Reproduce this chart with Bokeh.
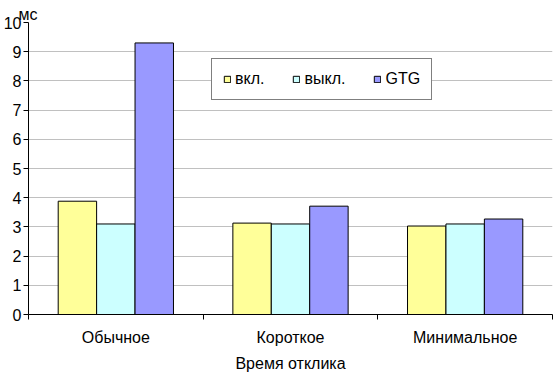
from bokeh.plotting import figure
from bokeh.models import (ColumnDataSource, Range1d, FixedTicker, Legend, LegendItem)
from bokeh.transform import dodge
from bokeh.embed import file_html
from bokeh.resources import INLINE

categories = ["Обычное", "Короткое", "Минимальное"]
series_names = ["вкл.", "выкл.", "GTG"]
on_vals = [3.88, 3.13, 3.03]
off_vals = [3.10, 3.10, 3.10]
gtg_vals = [9.30, 3.71, 3.27]
y_ticks = [0, 1, 2, 3, 4, 5, 6, 7, 8, 9, 10]
x_title = "Время отклика"
y_unit = "мс"
colors = ["#FFFF99", "#CCFFFF", "#9999FF"]

FONT = "Liberation Sans"
FS = "16px"

n = len(categories)
centers = [i + 0.5 for i in range(n)]
src = ColumnDataSource(dict(x=centers, cat=categories, on=on_vals, off=off_vals, gtg=gtg_vals))

p = figure(width=553, height=374, output_backend="svg", toolbar_location=None,
           x_range=Range1d(0, n), y_range=Range1d(0, 10),
           min_border_left=21, min_border_right=1, min_border_top=22, min_border_bottom=20)
p.outline_line_color = None
p.background_fill_color = "white"
p.border_fill_color = "white"

p.title.text = y_unit
p.title.align = "left"
p.title.offset = -10
p.title.standoff = 0
p.title.text_font = FONT
p.title.text_font_size = FS
p.title.text_font_style = "normal"
p.title.text_color = "black"

bw = 0.22
offsets = [-bw, 0.0, bw]
fields = ["on", "off", "gtg"]
renderers = []
for f, off, c in zip(fields, offsets, colors):
    r = p.vbar(x=dodge("x", off, range=p.x_range), top=f, width=bw, bottom=0, source=src,
               fill_color=c, line_color="black", line_width=1)
    renderers.append(r)

# x axis
xa = p.xaxis[0]
xa.ticker = FixedTicker(ticks=centers, minor_ticks=list(range(n + 1)))
xa.major_label_overrides = {c: lab for c, lab in zip(centers, categories)}
xa.major_tick_line_color = None
xa.major_tick_in = 0
xa.major_tick_out = 0
xa.minor_tick_line_color = "black"
xa.minor_tick_in = 0
xa.minor_tick_out = 5
xa.axis_line_color = "black"
xa.major_label_text_font = FONT
xa.major_label_text_font_size = FS
xa.major_label_text_color = "black"
xa.major_label_standoff = 9
xa.axis_label = x_title
xa.axis_label_text_font = FONT
xa.axis_label_text_font_size = FS
xa.axis_label_text_font_style = "normal"
xa.axis_label_text_color = "black"
xa.axis_label_standoff = 6

# y axis
ya = p.yaxis[0]
ya.ticker = FixedTicker(ticks=y_ticks)
ya.major_tick_in = 0
ya.major_tick_out = 5
ya.major_tick_line_color = "black"
ya.minor_tick_line_color = None
ya.axis_line_color = "black"
ya.major_label_text_font = FONT
ya.major_label_text_font_size = FS
ya.major_label_text_color = "black"
ya.major_label_standoff = 2

p.xgrid.grid_line_color = None
p.ygrid.grid_line_color = "#C0C0C0"
p.ygrid.grid_line_width = 1

legend = Legend(items=[LegendItem(label=s, renderers=[r]) for s, r in zip(series_names, renderers)],
                orientation="horizontal", location=(183, 214),
                border_line_color="black", border_line_width=1,
                background_fill_color="white", background_fill_alpha=1,
                padding=11, spacing=28, margin=0,
                glyph_width=8, glyph_height=8, label_standoff=4, label_height=15,
                label_text_font=FONT, label_text_font_size=FS, label_text_color="black")
p.add_layout(legend, "center")

open("out.html", "w").write(file_html(p, INLINE))
